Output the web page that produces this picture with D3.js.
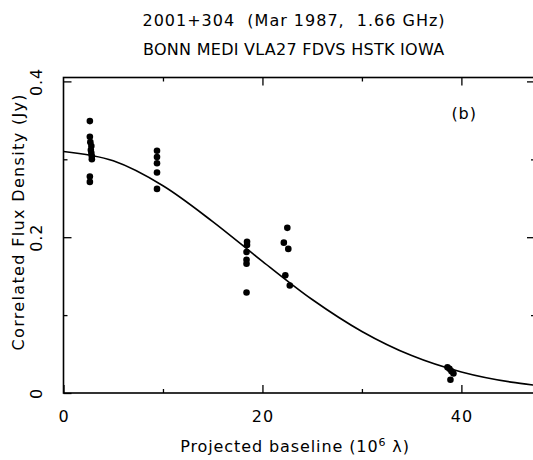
<!DOCTYPE html>
<html>
<head>
<meta charset="utf-8">
<script src="https://cdn.jsdelivr.net/npm/d3@7"></script>
<style>
  body { margin: 0; background: #fff; }
  text { font-family: "DejaVu Sans", sans-serif; fill: #000; letter-spacing: 0.9px; }
</style>
</head>
<body>
<div id="chart"></div>
<script>
// Data
////////////////////////////////////////////////////////////////////
// measured points: projected baseline (10^6 lambda) and flux (Jy)
const baseline = [
  2.65, 2.65, 2.7, 2.8, 2.75, 2.8, 2.85, 2.85, 2.65, 2.65,
  9.4, 9.4, 9.4, 9.4, 9.4,
  18.45, 18.45, 18.4, 18.4, 18.4, 18.4,
  22.5, 22.15, 22.6, 22.3, 22.75,
  38.6, 38.8, 39.0, 39.2, 38.9
];
const flux = [
  0.349, 0.329, 0.322, 0.317, 0.312, 0.308, 0.304, 0.300, 0.278, 0.271,
  0.311, 0.303, 0.295, 0.283, 0.262,
  0.194, 0.190, 0.181, 0.171, 0.166, 0.129,
  0.212, 0.193, 0.185, 0.151, 0.138,
  0.033, 0.031, 0.028, 0.025, 0.017
];
// model curve
const curveX = [0, 5, 10, 15, 20, 25, 30, 35, 40, 45, 47.4];
const curveY = [0.310, 0.298, 0.266, 0.220, 0.169, 0.120, 0.079, 0.048, 0.027, 0.014, 0.010];

const xMajor = [0, 20, 40];
const xMinor = [10, 30];
const yMajor = [0, 0.2, 0.4];
const yMinor = [0.1, 0.3];

const titleLines = ["2001+304  (Mar 1987,  1.66 GHz)", "BONN MEDI VLA27 FDVS HSTK IOWA"];

// Dimensions
////////////////////////////////////////////////////////////////////
let dimensions = {
  width: 533,
  height: 460,
  margin: { top: 77.5, bottom: 67, left: 63.5, right: -2 },
};
dimensions.ctrWidth = dimensions.width - dimensions.margin.left - dimensions.margin.right;
dimensions.ctrHeight = dimensions.height - dimensions.margin.top - dimensions.margin.bottom;

const svg = d3
  .select("#chart")
  .append("svg")
  .attr("width", dimensions.width)
  .attr("height", dimensions.height);

const ctr = svg
  .append("g")
  .attr("transform", `translate(${dimensions.margin.left}, ${dimensions.margin.top})`);

// Scales
////////////////////////////////////////////////////////////////////
const xScale = d3.scaleLinear().domain([0, 47.4]).range([0, dimensions.ctrWidth]);
const yScale = d3.scaleLinear().domain([0, 0.405]).range([dimensions.ctrHeight, 0]);

// Frame
////////////////////////////////////////////////////////////////////
ctr
  .append("rect")
  .attr("width", dimensions.ctrWidth)
  .attr("height", dimensions.ctrHeight)
  .attr("fill", "none")
  .attr("stroke", "#000")
  .attr("stroke-width", 1.6);

// Axes (ticks pointing inwards)
////////////////////////////////////////////////////////////////////
const fixAxis = (g) => {
  g.select(".domain").remove();
  g.selectAll("line").attr("stroke", "#000").attr("stroke-width", 1.3);
  g.selectAll("text").style("font-size", "16px").style("font-family", "DejaVu Sans, sans-serif");
};

// bottom
ctr.append("g")
  .attr("transform", `translate(0,${dimensions.ctrHeight})`)
  .call(d3.axisBottom(xScale).tickValues(xMajor).tickSize(-8).tickSizeOuter(0).tickPadding(18).tickFormat(d3.format("d")))
  .call(fixAxis);
ctr.append("g")
  .attr("transform", `translate(0,${dimensions.ctrHeight})`)
  .call(d3.axisBottom(xScale).tickValues(xMinor).tickSize(-4).tickSizeOuter(0).tickFormat(""))
  .call(fixAxis);
// top
ctr.append("g")
  .call(d3.axisTop(xScale).tickValues(xMajor.slice(1)).tickSize(-8).tickSizeOuter(0).tickFormat(""))
  .call(fixAxis);
ctr.append("g")
  .call(d3.axisTop(xScale).tickValues(xMinor).tickSize(-4).tickSizeOuter(0).tickFormat(""))
  .call(fixAxis);

// left
const yAxisGroup = ctr.append("g")
  .call(d3.axisLeft(yScale).tickValues(yMajor).tickSize(-8).tickSizeOuter(0).tickFormat((d) => (d === 0 ? "0" : d3.format(".1f")(d))))
  .call(fixAxis);
yAxisGroup.selectAll("text")
  .attr("x", 0)
  .attr("y", -21.5)
  .attr("dy", 0)
  .attr("transform", "rotate(-90)")
  .style("text-anchor", "middle");
ctr.append("g")
  .call(d3.axisLeft(yScale).tickValues(yMinor).tickSize(-4).tickSizeOuter(0).tickFormat(""))
  .call(fixAxis);
// right
ctr.append("g")
  .attr("transform", `translate(${dimensions.ctrWidth},0)`)
  .call(d3.axisRight(yScale).tickValues(yMajor.slice(1)).tickSize(-8).tickSizeOuter(0).tickFormat(""))
  .call(fixAxis);
ctr.append("g")
  .attr("transform", `translate(${dimensions.ctrWidth},0)`)
  .call(d3.axisRight(yScale).tickValues(yMinor).tickSize(-4).tickSizeOuter(0).tickFormat(""))
  .call(fixAxis);

// Model curve
////////////////////////////////////////////////////////////////////
const line = d3
  .line()
  .x((d, i) => xScale(curveX[i]))
  .y((d) => yScale(d))
  .curve(d3.curveMonotoneX);

ctr.append("path")
  .datum(curveY)
  .attr("d", line)
  .attr("fill", "none")
  .attr("stroke", "#000")
  .attr("stroke-width", 1.6);

// Points
////////////////////////////////////////////////////////////////////
ctr
  .selectAll("circle")
  .data(flux)
  .join("circle")
  .attr("cx", (d, i) => xScale(baseline[i]))
  .attr("cy", (d) => yScale(d))
  .attr("r", 3.3)
  .attr("fill", "#000");

// Labels
////////////////////////////////////////////////////////////////////
svg.selectAll(".title")
  .data(titleLines)
  .join("text")
  .attr("class", "title")
  .attr("x", 294)
  .attr("y", (d, i) => 25.5 + i * 29)
  .attr("text-anchor", "middle")
  .attr("textLength", (d, i) => (i === 0 ? 303 : 302))
  .attr("lengthAdjust", "spacing")
  .style("font-size", "16px")
  .style("white-space", "pre")
  .text((d) => d);

ctr.append("text")
  .attr("x", xScale(39.0))
  .attr("y", 41.5)
  .style("font-size", "16px")
  .text("(b)");

const xTitle = svg.append("text")
  .attr("x", 295)
  .attr("y", 452)
  .attr("text-anchor", "middle")
  .style("font-size", "16px");
xTitle.append("tspan").text("Projected baseline (10");
xTitle.append("tspan").attr("dy", -6).style("font-size", "11px").text("6");
xTitle.append("tspan").attr("dy", 6).text(" \u03bb)");

svg.append("text")
  .attr("transform", "translate(24,222) rotate(-90)")
  .attr("text-anchor", "middle")
  .attr("textLength", 257)
  .attr("lengthAdjust", "spacing")
  .style("font-size", "16px")
  .text("Correlated Flux Density (Jy)");
</script>
</body>
</html>
